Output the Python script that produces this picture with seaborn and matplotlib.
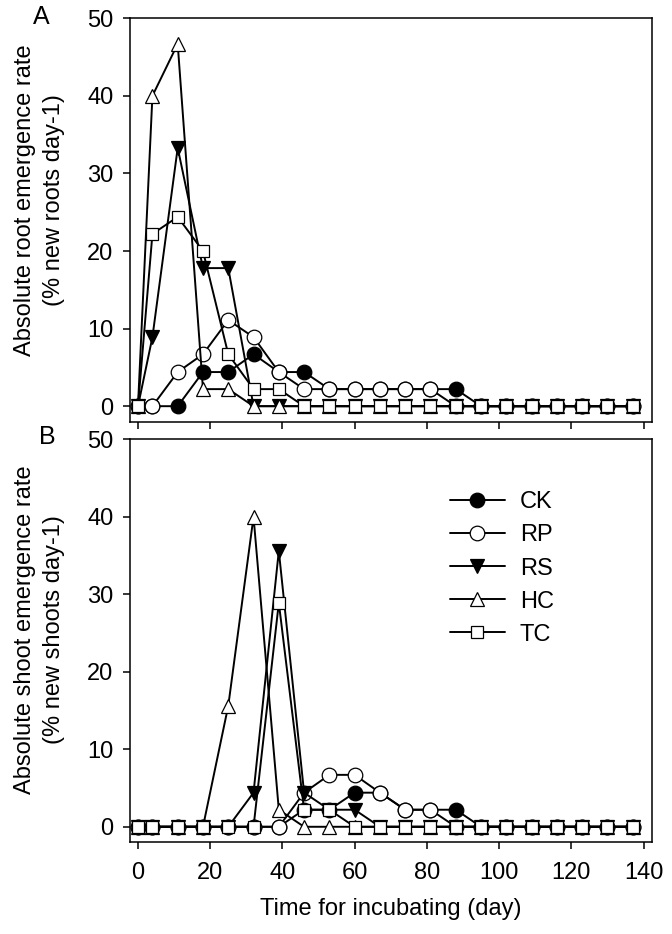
import matplotlib
matplotlib.use("Agg")
import matplotlib.pyplot as plt
import seaborn as sns

sns.set_style("ticks")
plt.rcParams["font.family"] = ["Liberation Sans", "DejaVu Sans"]
plt.rcParams.update({"text.color": "black", "axes.labelcolor": "black",
                     "xtick.color": "black", "ytick.color": "black",
                     "axes.edgecolor": "black"})

days = [0, 4, 11, 18, 25, 32, 39, 46, 53, 60, 67, 74, 81, 88, 95, 102, 109, 116, 123, 130, 137]

# A - root emergence rate (% new roots day-1)
root_ck = [0, 0, 0, 4.4, 4.4, 6.7, 4.4, 4.4, 2.2, 2.2, 2.2, 2.2, 2.2, 2.2, 0, 0, 0, 0, 0, 0, 0]
root_rp = [0, 0, 4.4, 6.7, 11.1, 8.9, 4.4, 2.2, 2.2, 2.2, 2.2, 2.2, 2.2, 0, 0, 0, 0, 0, 0, 0, 0]
root_rs = [0, 8.9, 33.3, 17.8, 17.8, 0, 0, 0, 0, 0, 0, 0, 0, 0, 0, 0, 0, 0, 0, 0, 0]
root_hc = [0, 40, 46.7, 2.2, 2.2, 0, 0, 0, 0, 0, 0, 0, 0, 0, 0, 0, 0, 0, 0, 0, 0]
root_tc = [0, 22.2, 24.4, 20, 6.7, 2.2, 2.2, 0, 0, 0, 0, 0, 0, 0, 0, 0, 0, 0, 0, 0, 0]

# B - shoot emergence rate (% new shoots day-1)
shoot_ck = [0, 0, 0, 0, 0, 0, 0, 2.2, 2.2, 4.4, 4.4, 2.2, 2.2, 2.2, 0, 0, 0, 0, 0, 0, 0]
shoot_rp = [0, 0, 0, 0, 0, 0, 0, 4.4, 6.7, 6.7, 4.4, 2.2, 2.2, 0, 0, 0, 0, 0, 0, 0, 0]
shoot_rs = [0, 0, 0, 0, 0, 4.4, 35.6, 4.4, 2.2, 2.2, 0, 0, 0, 0, 0, 0, 0, 0, 0, 0, 0]
shoot_hc = [0, 0, 0, 0, 15.6, 40, 2.2, 0, 0, 0, 0, 0, 0, 0, 0, 0, 0, 0, 0, 0, 0]
shoot_tc = [0, 0, 0, 0, 0, 0, 28.9, 2.2, 2.2, 0, 0, 0, 0, 0, 0, 0, 0, 0, 0, 0, 0]

names = ["CK", "RP", "RS", "HC", "TC"]
markers = {"CK": "o", "RP": "o", "RS": "v", "HC": "^", "TC": "s"}
faces = {"CK": "black", "RP": "white", "RS": "black", "HC": "white", "TC": "white"}
msize = {"CK": 10.5, "RP": 10.5, "RS": 10, "HC": 10.5, "TC": 9.2}

fs = 17

fig = plt.figure(figsize=(6.72, 9.34), dpi=100)
axA = fig.add_axes([0.1935, 0.5485, 0.7765, 0.4319])
axB = fig.add_axes([0.1935, 0.0982, 0.7765, 0.4315])


def draw(ax, series):
    for n, vals in zip(names, series):
        sns.lineplot(x=days, y=vals, ax=ax, color="black", lw=1.4,
                     marker=markers[n], ms=msize[n], mfc=faces[n], mec="black",
                     mew=0.9, label=n, legend=False)
    ax.set_xlim(-2.2, 142.3)
    ax.set_ylim(-2, 50)
    ax.set_xticks(range(0, 141, 20))
    ax.set_yticks(range(0, 51, 10))
    for s in ax.spines.values():
        s.set_linewidth(1.1)
    ax.tick_params(direction="out", length=5, width=1.1, labelsize=fs)
    ax.tick_params(axis="y", pad=7)
    ax.tick_params(axis="x", pad=9)


draw(axA, [root_ck, root_rp, root_rs, root_hc, root_tc])
draw(axB, [shoot_ck, shoot_rp, shoot_rs, shoot_hc, shoot_tc])

axA.tick_params(axis="x", labelbottom=False)
axA.set_ylabel("Absolute root emergence rate\n(% new roots day-1)", fontsize=fs, linespacing=1.4)
axB.set_ylabel("Absolute shoot emergence rate\n(% new shoots day-1)", fontsize=fs, linespacing=1.4)
axA.yaxis.set_label_coords(65 / 672, 1 - 200 / 934, transform=fig.transFigure)
axB.yaxis.set_label_coords(65 / 672, 1 - 630 / 934, transform=fig.transFigure)
axB.set_xlabel("Time for incubating (day)", fontsize=fs, labelpad=10)

axB.legend(loc="upper left", bbox_to_anchor=(0.59, 0.9), frameon=False, fontsize=fs,
           handlelength=2.33, handletextpad=0.64, labelspacing=0.47, borderpad=0)

fig.text(41.5 / 672, 1 - 16.5 / 934, "A", fontsize=18, ha="center", va="center")
fig.text(47 / 672, 1 - 437 / 934, "B", fontsize=18, ha="center", va="center")

fig.savefig("out.png", dpi=100)
